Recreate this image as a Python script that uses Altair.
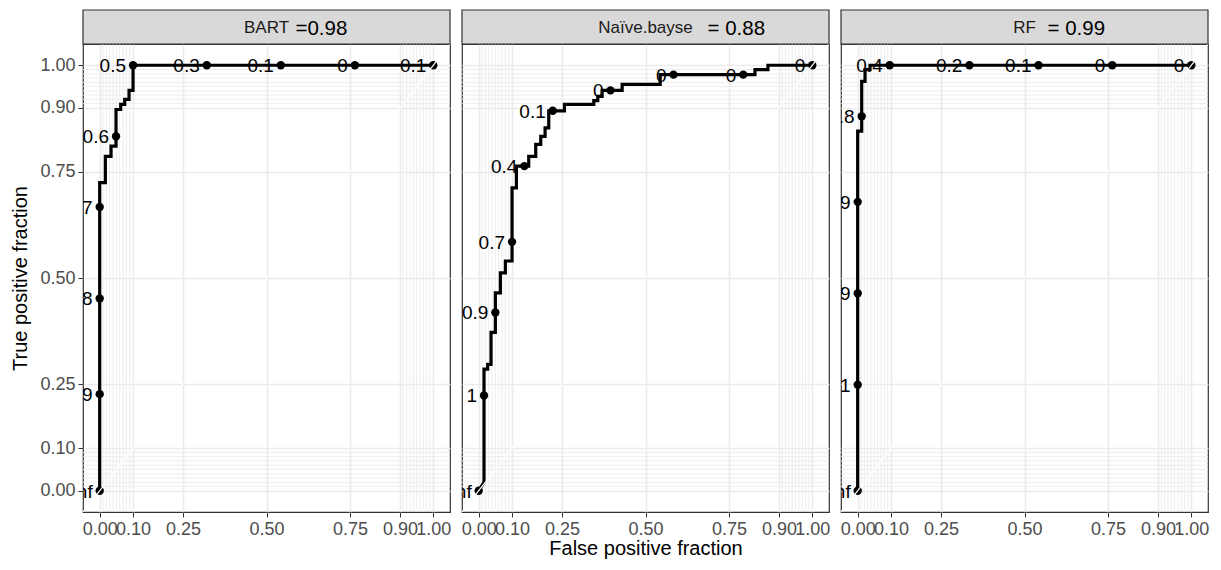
import altair as alt
import pandas as pd

# ---------------- data ----------------
models = ["BART", "Naïve.bayse", "RF"]
auc_labels = ["=0.98", "= 0.88", "= 0.99"]

major_breaks = [0.0, 0.1, 0.25, 0.5, 0.75, 0.9, 1.0]
minor_breaks = [0.01, 0.02, 0.03, 0.04, 0.05, 0.06, 0.07, 0.08, 0.09,
                0.91, 0.92, 0.93, 0.94, 0.95, 0.96, 0.97, 0.98, 0.99]
guide_vals = [-0.05, 1.05]

# BART curve
bart_fpf = [0, 0, 0.017, 0.017, 0.034, 0.034, 0.049, 0.049, 0.063, 0.063,
            0.075, 0.075, 0.088, 0.088, 0.1, 0.1, 1.0]
bart_tpf = [0, 0.724, 0.724, 0.786, 0.786, 0.81, 0.81, 0.896, 0.896, 0.908,
            0.908, 0.92, 0.92, 0.941, 0.941, 1.0, 1.0]
bart_cut_fpf = [0, 0, 0, 0, 0.049, 0.1, 0.321, 0.543, 0.765, 1.0]
bart_cut_tpf = [0, 0.227, 0.452, 0.667, 0.833, 1, 1, 1, 1, 1]
bart_cut_lab = ["Inf", "0.9", "0.8", "0.7", "0.6", "0.5", "0.3", "0.1", "0", "0.1"]

# Naive Bayes curve
nb_fpf = [0, 0.016, 0.016, 0.027, 0.027, 0.037, 0.037, 0.05, 0.05, 0.065,
          0.065, 0.08, 0.08, 0.1, 0.1, 0.113, 0.113, 0.15, 0.15, 0.171,
          0.171, 0.186, 0.186, 0.199, 0.199, 0.21, 0.21, 0.257, 0.257, 0.345,
          0.345, 0.357, 0.357, 0.37, 0.37, 0.43, 0.43, 0.544, 0.544, 0.828,
          0.828, 0.867, 0.867, 1.0]
nb_tpf = [0, 0.02, 0.286, 0.286, 0.297, 0.297, 0.372, 0.372, 0.465, 0.465,
          0.512, 0.512, 0.54, 0.54, 0.712, 0.712, 0.763, 0.763, 0.786, 0.786,
          0.814, 0.814, 0.833, 0.833, 0.853, 0.853, 0.893, 0.893, 0.908, 0.908,
          0.917, 0.917, 0.927, 0.927, 0.941, 0.941, 0.955, 0.955, 0.978, 0.978,
          0.99, 0.99, 1.0, 1.0]
nb_cut_fpf = [0, 0.016, 0.05, 0.1, 0.137, 0.222, 0.395, 0.584, 0.793, 1.0]
nb_cut_tpf = [0, 0.224, 0.419, 0.585, 0.763, 0.893, 0.941, 0.978, 0.978, 1.0]
nb_cut_lab = ["Inf", "1", "0.9", "0.7", "0.4", "0.1", "0", "0", "0", "0"]

# Random forest curve
rf_fpf = [0, 0, 0.012, 0.012, 0.022, 0.022, 0.037, 0.037, 1.0]
rf_tpf = [0, 0.845, 0.845, 0.962, 0.962, 0.99, 0.99, 1.0, 1.0]
rf_cut_fpf = [0, 0, 0, 0, 0.012, 0.096, 0.335, 0.542, 0.763, 1.0]
rf_cut_tpf = [0, 0.249, 0.464, 0.679, 0.88, 1, 1, 1, 1, 1]
rf_cut_lab = ["Inf", "1", "0.9", "0.9", "0.8", "0.4", "0.2", "0.1", "0", "0"]

curves = [(bart_fpf, bart_tpf), (nb_fpf, nb_tpf), (rf_fpf, rf_tpf)]
cuts = [(bart_cut_fpf, bart_cut_tpf, bart_cut_lab),
        (nb_cut_fpf, nb_cut_tpf, nb_cut_lab),
        (rf_cut_fpf, rf_cut_tpf, rf_cut_lab)]

# ---------------- layout / style ----------------
W, H = 367, 468
STRIP_H = 34
FONT = "Liberation Sans"
auc_dx = [29, 62, 23]   # offset of the AUC annotation from the strip centre

xscale = alt.Scale(domain=[-0.05, 1.05], nice=False, zero=False)
yscale = alt.Scale(domain=[-0.05, 1.05], nice=False, zero=False)


def x_axis(title):
    return alt.Axis(values=major_breaks, format=".2f", labelFontSize=18,
                    labelColor="#4d4d4d", labelFont=FONT, labelOverlap=False,
                    labelFlush=False, labelPadding=3, tickColor="#333333",
                    tickSize=5, tickWidth=1, domain=False, grid=True,
                    gridColor="#ebebeb", gridWidth=1.6, titleFont=FONT,
                    titleFontSize=20, titleFontWeight="normal",
                    titleColor="#000000", titlePadding=0,
                    title=title if title else "")


def y_axis(show):
    if show:
        return alt.Axis(values=major_breaks, format=".2f", labelFontSize=18,
                        labelColor="#4d4d4d", labelFont=FONT, labelOverlap=False,
                        labelFlush=False, labelPadding=3, tickColor="#333333",
                        tickSize=5, tickWidth=1, domain=False, grid=True,
                        gridColor="#ebebeb", gridWidth=1.6, titleFont=FONT,
                        titleFontSize=20, titleFontWeight="normal",
                        titleColor="#000000", titlePadding=9,
                        title="True positive fraction")
    return alt.Axis(values=major_breaks, labels=False, ticks=False, domain=False,
                    grid=True, gridColor="#ebebeb", gridWidth=1.6, title="")


def panel(i):
    fpf, tpf = curves[i]
    cf, ct, cl = cuts[i]
    curve_df = pd.DataFrame({"fpf": fpf, "tpf": tpf, "ord": list(range(len(fpf)))})
    cut_df = pd.DataFrame({"fpf": cf, "tpf": ct, "lab": cl})
    minor_df = pd.DataFrame({"v": minor_breaks})
    guide_df = pd.DataFrame({"g": guide_vals})
    strip_df = pd.DataFrame({"name": [models[i]], "auc": [auc_labels[i]]})

    X = lambda f: alt.X(f, scale=xscale,
                        axis=x_axis("False positive fraction" if i == 1 else None))
    Y = lambda f: alt.Y(f, scale=yscale, axis=y_axis(i == 0))

    minor_x = alt.Chart(minor_df).mark_rule(color="#ebebeb", strokeWidth=0.9).encode(
        x=X("v:Q"))
    minor_y = alt.Chart(minor_df).mark_rule(color="#ebebeb", strokeWidth=0.9).encode(
        y=Y("v:Q"))
    line = alt.Chart(curve_df).mark_line(color="black", strokeWidth=3.2,
                                         clip=True).encode(
        x=X("fpf:Q"), y=Y("tpf:Q"), order="ord:Q")
    pts = alt.Chart(cut_df).mark_circle(color="black", size=70, opacity=1,
                                        clip=True).encode(
        x=X("fpf:Q"), y=Y("tpf:Q"))
    labs = alt.Chart(cut_df).mark_text(align="right", baseline="middle", dx=-7,
                                       dy=1, fontSize=19, font=FONT,
                                       color="black", clip=True).encode(
        x=X("fpf:Q"), y=Y("tpf:Q"), text="lab:N")
    diag = alt.Chart(guide_df).mark_line(color="#ffffff", strokeWidth=1.2,
                                         clip=True).encode(
        x=X("g:Q"), y=Y("g:Q"))
    strip = alt.Chart(strip_df).mark_rect(fill="#d9d9d9", stroke="#333333",
                                          strokeWidth=1.2).encode(
        x=alt.value(0), x2=alt.value(W), y=alt.value(-STRIP_H), y2=alt.value(0))
    name = alt.Chart(strip_df).mark_text(align="center", baseline="middle",
                                         fontSize=17, font=FONT,
                                         color="#1a1a1a").encode(
        x=alt.value(W / 2), y=alt.value(-STRIP_H / 2 + 1), text="name:N")
    auc = alt.Chart(strip_df).mark_text(align="left", baseline="middle",
                                        fontSize=20.5, font=FONT,
                                        color="#000000").encode(
        x=alt.value(W / 2 + auc_dx[i]), y=alt.value(-STRIP_H / 2 + 2), text="auc:N")

    return alt.layer(minor_x, minor_y, line, pts, labs, diag, strip, name, auc).properties(
        width=W, height=H)


chart = alt.hconcat(panel(0), panel(1), panel(2), spacing=8).configure_view(
    stroke="#333333", strokeWidth=1.2).properties(
    padding={"left": 2, "top": 0, "right": 0, "bottom": 0},
    background="white")

chart.save("out.html", embed_options={"renderer": "svg", "actions": False})
